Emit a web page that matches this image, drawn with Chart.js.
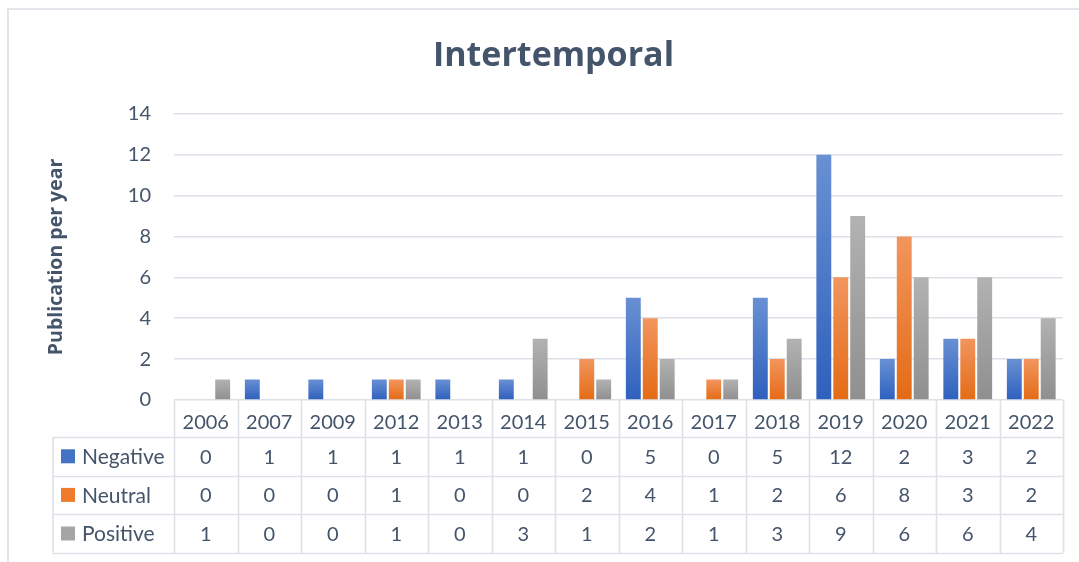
<!DOCTYPE html>
<html>
<head>
<meta charset="utf-8">
<title>Intertemporal</title>
<script src="https://cdn.jsdelivr.net/npm/chart.js@4.4.1/dist/chart.umd.min.js"></script>
<style>
  body { margin: 0; background: #fff; }
  #wrap { position: relative; width: 1079px; height: 562px; }
  #frame {
    position: absolute; left: 7px; top: 8px; width: 1100px; height: 600px;
    border-left: 2px solid #e2e5ea; border-top: 2px solid #e2e5ea;
    pointer-events: none;
  }
  canvas { position: absolute; left: 0; top: 0; }
</style>
</head>
<body>
<div id="wrap">
  <canvas id="chart" width="1079" height="562"></canvas>
  <div id="frame"></div>
</div>
<script>
const years = ['2006', '2007', '2009', '2012', '2013', '2014', '2015', '2016', '2017', '2018', '2019', '2020', '2021', '2022'];
const negative = [0, 1, 1, 1, 1, 1, 0, 5, 0, 5, 12, 2, 3, 2];
const neutral  = [0, 0, 0, 1, 0, 0, 2, 4, 1, 2, 6, 8, 3, 2];
const positive = [1, 0, 0, 1, 0, 3, 1, 2, 1, 3, 9, 6, 6, 4];
const seriesNames = ['Negative', 'Neutral', 'Positive'];

const textColor = '#44546a';
const lineColor = '#dde1e7';
const fontFamily = 'Lato, "Open Sans", sans-serif';
const titleFamily = '"Open Sans", Lato, sans-serif';

// top / bottom colours of each bar gradient
const shades = [
  ['#6990d3', '#2e60bd'],
  ['#f2955e', '#e46b15'],
  ['#b2b2b2', '#8f8f8f']
];
const keyColors = ['#4472c4', '#ef7b2c', '#a5a5a5'];

function barFill(idx) {
  return function (ctx) {
    const chart = ctx.chart;
    const y = chart.scales.y;
    if (!y || !chart.chartArea || ctx.parsed == null) return shades[idx][1];
    const top = y.getPixelForValue(ctx.parsed.y);
    const base = y.getPixelForValue(0);
    if (base - top < 1) return shades[idx][1];
    const g = chart.ctx.createLinearGradient(0, top, 0, base);
    g.addColorStop(0, shades[idx][0]);
    g.addColorStop(1, shades[idx][1]);
    return g;
  };
}

// data table drawn under the x axis, aligned on the category scale
const dataTable = {
  id: 'dataTable',
  afterDraw(chart) {
    const ctx = chart.ctx;
    const area = chart.chartArea;
    const x = chart.scales.x;
    const n = years.length;
    const colW = (area.right - area.left) / n;
    const headTop = area.bottom;
    const headBottom = headTop + 37;
    const rowH = 38.6;
    const tableLeft = 53;
    const rows = chart.data.datasets.map(d => d.data);

    ctx.save();
    ctx.strokeStyle = lineColor;
    ctx.lineWidth = 1.6;
    ctx.beginPath();
    for (let i = 0; i <= n; i++) {
      const px = Math.round(x.getPixelForValue(i) - colW / 2) + 0.5;
      ctx.moveTo(px, headTop);
      ctx.lineTo(px, headBottom + rowH * 3);
    }
    ctx.moveTo(tableLeft, headBottom);
    ctx.lineTo(tableLeft, headBottom + rowH * 3);
    for (let r = 0; r <= 3; r++) {
      const py = Math.round(headBottom + rowH * r) + 0.5;
      ctx.moveTo(tableLeft, py);
      ctx.lineTo(area.right, py);
    }
    ctx.stroke();

    ctx.fillStyle = textColor;
    ctx.textBaseline = 'middle';
    for (let r = 0; r < 3; r++) {
      const cy = headBottom + rowH * r + rowH / 2;
      ctx.fillStyle = keyColors[r];
      ctx.fillRect(61, cy - 7, 14, 14);
      ctx.fillStyle = textColor;
      ctx.textAlign = 'left';
      ctx.font = '21px ' + fontFamily;
      ctx.fillText(seriesNames[r], 82, cy + 1);
      ctx.textAlign = 'center';
      ctx.font = '20px ' + fontFamily;
      for (let i = 0; i < n; i++) {
        ctx.fillText(String(rows[r][i]), x.getPixelForValue(i), cy + 1);
      }
    }
    ctx.restore();
  }
};

const ctx = document.getElementById('chart').getContext('2d');
new Chart(ctx, {
  type: 'bar',
  data: {
    labels: years,
    datasets: [
      { label: seriesNames[0], data: negative, backgroundColor: barFill(0) },
      { label: seriesNames[1], data: neutral, backgroundColor: barFill(1) },
      { label: seriesNames[2], data: positive, backgroundColor: barFill(2) }
    ]
  },
  options: {
    responsive: false,
    animation: false,
    datasets: {
      bar: { categoryPercentage: 0.8, barPercentage: 0.88 }
    },
    layout: {
      padding: { left: 44, right: 16, top: 0, bottom: 125 }
    },
    plugins: {
      legend: { display: false },
      tooltip: { enabled: false },
      title: {
        display: true,
        text: 'Intertemporal',
        color: textColor,
        font: { family: titleFamily, size: 34, weight: 'bold' },
        padding: { top: 36, bottom: 37 }
      }
    },
    scales: {
      x: {
        grid: { display: false },
        border: { display: false },
        ticks: {
          color: textColor,
          font: { family: fontFamily, size: 20 },
          padding: 3,
          maxRotation: 0,
          autoSkip: false
        },
        afterFit(s) { s.height = 37; }
      },
      y: {
        min: 0,
        max: 14,
        ticks: {
          stepSize: 2,
          color: textColor,
          font: { family: fontFamily, size: 20 },
          padding: 23
        },
        grid: { color: lineColor, lineWidth: 1.6, drawTicks: false },
        border: { display: false },
        title: {
          display: true,
          text: 'Publication per year',
          color: textColor,
          font: { family: titleFamily, size: 19.5, weight: 'bold' },
          padding: { top: 1, bottom: 4 }
        },
        afterFit(s) { s.width = 130; }
      }
    }
  },
  plugins: [dataTable]
});
</script>
</body>
</html>
